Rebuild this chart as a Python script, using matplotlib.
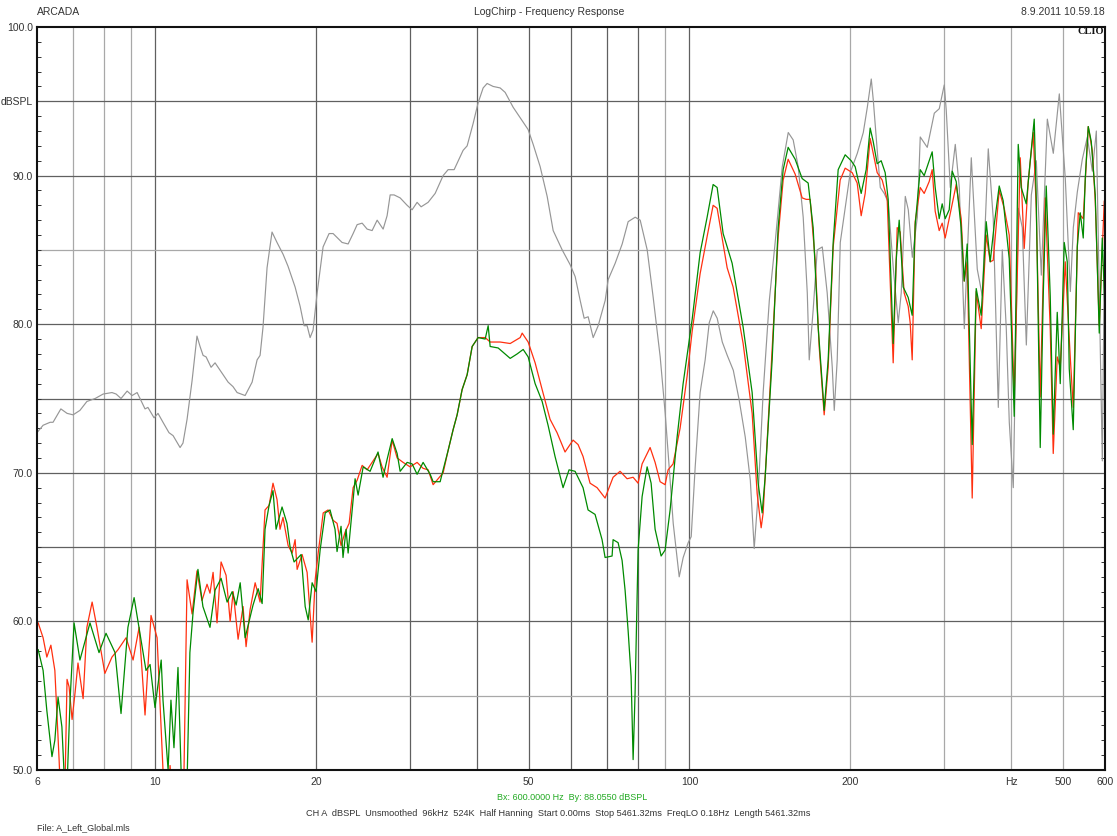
import matplotlib
matplotlib.use("Agg")
import matplotlib.pyplot as plt
from matplotlib.ticker import FixedLocator, NullFormatter

plt.rcParams['font.family'] = ['Liberation Sans', 'DejaVu Sans']

# ---------------- data ----------------
gray_f = [6.00, 6.16, 6.35, 6.43, 6.65, 6.83, 7.01, 7.22, 7.44, 7.71, 7.98, 8.29, 8.44, 8.62, 8.85, 9.04, 9.24,
          9.56, 9.68, 9.94, 10.11, 10.33, 10.60, 10.79, 11.12, 11.26, 11.46, 11.71, 11.96, 12.12, 12.28, 12.44,
          12.71, 12.93, 13.33, 13.68, 13.97, 14.22, 14.72, 15.17, 15.50, 15.70, 15.90, 16.18, 16.53, 16.89, 17.34,
          17.71, 18.26, 18.66, 18.98, 19.23, 19.48, 19.73, 20.08, 20.60, 21.14, 21.51, 22.36, 22.95, 23.45, 23.86,
          24.38, 24.91, 25.45, 26.01, 26.69, 27.15, 27.51, 27.98, 28.72, 29.60, 30.24, 30.90, 31.44, 32.40, 33.40,
          34.57, 35.32, 36.25, 37.68, 38.34, 39.34, 40.20, 41.08, 41.79, 42.89, 44.20, 45.17, 46.75, 48.19, 49.87,
          50.97, 52.53, 54.14, 55.56, 57.76, 59.79, 61.09, 62.42, 63.50, 64.61, 66.02, 67.46, 69.53, 70.43, 72.59,
          74.82, 76.77, 79.13, 80.86, 83.34, 85.52, 88.14, 90.06, 91.23, 93.23, 95.67, 97.33, 99.45, 100.75, 102.5,
          104.7, 107.0, 108.9, 110.8, 112.7, 115.2, 117.7, 120.8, 123.9, 127.2, 130.0, 132.2, 134.5, 137.4, 141.1,
          144.7, 149.2, 153.1, 156.4, 159.8, 163.3, 166.2, 167.6, 170.5, 173.5, 177.3, 181.1, 185.1, 186.7, 189.1,
          191.6, 195.8, 200.0, 206.2, 211.6, 215.3, 219.0, 220.9, 224.7, 227.7, 231.6, 235.6, 240.8, 246.0, 249.2,
          253.6, 256.9, 261.4, 267.1, 270.5, 278.8, 287.4, 293.6, 300.0, 302.6, 307.9, 314.6, 320.1, 327.1, 337.1,
          345.9, 353.5, 362.7, 370.6, 378.7, 385.3, 392.0, 397.1, 404.0, 412.8, 420.0, 427.4, 436.7, 446.2, 455.9,
          467.9, 480.1, 492.7, 505.6, 516.7, 523.4, 532.5, 544.1, 556.0, 568.1, 578.0, 593.1, 600.0]
gray_db = [72.7, 73.2, 73.4, 73.4, 74.3, 74.0, 73.9, 74.2, 74.8, 75.0, 75.3, 75.4, 75.3, 75.0, 75.5, 75.2, 75.4,
           74.3, 74.4, 73.7, 74.0, 73.4, 72.7, 72.5, 71.7, 72.0, 73.6, 76.2, 79.2, 78.5, 77.9, 77.8,
           77.1, 77.4, 76.7, 76.1, 75.8, 75.4, 75.2, 76.1, 77.6, 77.9, 79.8, 83.8, 86.2, 85.5, 84.7,
           83.9, 82.5, 81.2, 79.9, 79.9, 79.1, 79.6, 82.1, 85.2, 86.1, 86.1, 85.5, 85.4, 86.1, 86.7,
           86.8, 86.4, 86.3, 87.0, 86.4, 87.3, 88.7, 88.7, 88.5, 88.0, 87.7, 88.2, 87.9, 88.2, 88.8,
           90.0, 90.4, 90.4, 91.7, 92.0, 93.5, 94.9, 95.9, 96.2, 96.0, 95.9, 95.6, 94.6, 93.9, 93.1,
           92.1, 90.6, 88.6, 86.3, 85.0, 84.0, 83.2, 81.6, 80.4, 80.5, 79.1, 79.9, 81.6, 83.0, 84.1,
           85.4, 86.9, 87.2, 87.0, 85.0, 81.8, 77.8, 74.0, 71.3, 66.6, 63.0, 64.3, 65.3, 65.7, 70.4,
           75.4, 77.6, 80.1, 80.9, 80.4, 78.8, 77.9, 76.9, 74.9, 72.4, 69.5, 64.9, 68.6, 75.4, 81.6,
           85.5, 90.6, 92.9, 92.4, 90.6, 87.2, 82.1, 77.6, 81.0, 85.0, 85.2, 82.1, 77.1, 74.2, 77.6,
           85.5, 87.9, 90.2, 91.5, 92.9, 94.6, 96.5, 95.1, 91.7, 89.2, 88.8, 88.2, 83.8, 80.1, 82.1,
           88.6, 87.7, 84.5, 87.2, 92.6, 91.9, 94.2, 94.5, 96.1, 94.4, 89.2, 92.1, 89.2, 79.7, 91.2,
           83.7, 81.9, 91.8, 87.1, 74.4, 85.0, 79.7, 73.4, 69.0, 87.8, 86.5, 78.6, 88.7, 91.0, 83.3,
           93.8, 91.5, 95.5, 89.8, 82.2, 86.5, 88.9, 91.1, 92.6, 90.3, 93.0, 70.8, 88.3]

red_f = [6.03, 6.16, 6.26, 6.37, 6.48, 6.60, 6.68, 6.77, 6.83, 6.89, 6.98, 7.07, 7.16, 7.32, 7.44, 7.61, 7.77,
         8.04, 8.29, 8.51, 8.81, 9.08, 9.32, 9.56, 9.81, 10.07, 10.33, 10.47, 10.65, 10.83, 11.12, 11.31, 11.46,
         11.71, 11.96, 12.22, 12.49, 12.65, 12.82, 13.04, 13.27, 13.56, 13.80, 13.98, 14.28, 14.59, 14.78, 15.04,
         15.37, 15.70, 16.04, 16.32, 16.60, 16.89, 17.11, 17.33, 17.72, 18.03, 18.26, 18.42, 18.82, 19.23, 19.65,
         19.91, 20.17, 20.61, 21.05, 21.51, 21.88, 22.26, 22.65, 23.05, 23.45, 23.86, 24.38, 24.91, 25.45, 26.11,
         26.57, 27.15, 27.75, 28.35, 29.09, 29.98, 30.90, 31.71, 32.41, 33.11, 33.84, 34.57, 35.32, 36.09, 36.72,
         37.52, 38.34, 39.18, 40.20, 41.44, 42.34, 44.21, 46.16, 48.19, 48.61, 49.88, 51.40, 52.98, 54.82, 56.50,
         58.48, 60.54, 61.86, 63.20, 65.14, 67.14, 69.50, 71.94, 74.14, 76.42, 78.43, 80.13, 81.53, 84.39, 86.23,
         88.11, 90.03, 91.20, 93.19, 96.04, 98.99, 101.15, 104.70, 107.91, 110.74, 112.67, 117.64, 120.72, 126.04,
         131.03, 133.89, 136.22, 137.40, 141.61, 146.58, 149.78, 153.04, 157.73, 162.57, 165.40, 168.27, 171.94,
         174.93, 178.75, 181.86, 185.83, 191.52, 195.70, 201.69, 206.09, 209.68, 213.33, 217.97, 220.81, 224.65,
         229.55, 234.56, 240.71, 244.90, 248.09, 252.41, 256.80, 259.02, 261.27, 264.67, 270.44, 275.14, 281.14,
         284.80, 288.51, 293.53, 297.35, 301.23, 306.48, 315.87, 322.75, 326.96, 331.22, 338.43, 344.32, 351.83,
         359.50, 365.76, 370.52, 380.23, 388.53, 397.01, 405.66, 416.29, 423.54, 430.91, 440.30, 446.03, 453.79,
         463.69, 473.80, 479.97, 488.32, 494.68, 505.47, 516.48, 523.21, 534.61, 546.27, 558.19, 567.90, 575.30,
         585.30, 598.07, 600.0]
red_db = [59.9, 58.9, 57.6, 58.4, 56.7, 50.7, 46.0, 49.0, 56.1, 55.6, 53.4, 55.2, 57.2, 54.8, 59.6, 61.3, 59.6,
          56.5, 57.6, 58.1, 58.9, 57.4, 59.6, 53.7, 60.4, 58.9, 50.0, 46.0, 50.3, 46.0, 46.0, 50.0, 62.8,
          60.5, 63.4, 61.4, 62.5, 61.9, 63.3, 59.9, 64.0, 63.1, 60.0, 62.0, 58.8, 61.0, 58.3, 60.8,
          62.6, 61.3, 67.5, 67.8, 69.3, 68.2, 66.2, 67.0, 65.1, 64.6, 65.5, 63.5, 64.5, 63.3, 58.6,
          62.8, 64.6, 67.3, 67.5, 66.8, 66.6, 65.1, 66.0, 66.6, 69.0, 69.5, 70.5, 70.2, 70.7, 71.3,
          70.4, 69.7, 72.2, 71.0, 70.7, 70.4, 70.7, 70.3, 70.2, 69.2, 69.6, 70.0, 71.5, 72.9, 73.9,
          75.6, 76.6, 78.5, 79.1, 79.1, 78.8, 78.8, 78.7, 79.1, 79.4, 78.8, 77.4, 75.6, 73.6, 72.7,
          71.4, 72.2, 71.9, 71.1, 69.3, 69.0, 68.3, 69.7, 70.1, 69.6, 69.7, 69.3, 70.6, 71.7, 70.7,
          69.4, 69.2, 70.2, 70.6, 73.0, 76.5, 79.5, 83.4, 85.9, 88.0, 87.8, 83.8, 82.5, 78.7,
          74.0, 68.6, 66.3, 67.3, 75.8, 85.9, 89.7, 91.1, 90.1, 88.5, 88.4, 88.4, 84.3,
          78.5, 73.9, 77.1, 85.2, 89.7, 90.5, 90.2, 89.5, 87.3, 88.8, 92.5, 91.5, 90.2,
          89.7, 88.4, 77.4, 86.5, 86.2, 82.1, 81.2, 80.1, 77.6, 86.9, 89.2, 88.8, 89.6,
          90.4, 87.6, 86.3, 86.8, 85.8, 87.1, 89.4, 87.1, 82.9, 84.2, 68.3, 82.2, 79.7,
          86.0, 84.2, 84.3, 89.0, 87.8, 86.0, 75.1, 91.2, 85.1, 89.6, 92.9, 87.8, 75.1,
          88.5, 79.7, 71.3, 77.8, 77.1, 84.2, 77.8, 74.4, 87.5, 87.1, 93.3, 91.7, 88.3,
          79.9, 88.3, 86.0]

green_f = [6.03, 6.16, 6.26, 6.40, 6.48, 6.57, 6.68, 6.80, 6.92, 7.04, 7.22, 7.54, 7.84, 8.08, 8.40, 8.62, 8.88,
           9.12, 9.36, 9.60, 9.77, 9.98, 10.25, 10.33, 10.56, 10.69, 10.83, 11.02, 11.21, 11.41, 11.60, 11.76,
           12.01, 12.27, 12.65, 12.93, 13.27, 13.62, 13.92, 14.16, 14.41, 14.72, 15.04, 15.23, 15.57, 15.84,
           16.04, 16.32, 16.60, 16.82, 17.26, 17.63, 17.87, 18.18, 18.74, 19.07, 19.32, 19.65, 19.99, 20.34,
           20.79, 21.23, 21.69, 21.88, 22.26, 22.45, 22.75, 22.95, 23.35, 23.65, 23.96, 24.49, 25.23, 26.11,
           26.68, 27.15, 27.75, 28.35, 28.72, 29.60, 30.24, 30.90, 31.71, 32.69, 33.11, 34.13, 34.57, 35.32,
           36.09, 36.72, 37.52, 38.34, 39.18, 40.20, 41.44, 41.98, 42.34, 43.83, 46.16, 47.57, 48.82, 49.88,
           51.40, 52.98, 54.35, 56.01, 57.98, 59.50, 61.06, 63.20, 64.58, 66.56, 68.60, 69.50, 71.63, 71.94,
           73.51, 74.79, 75.76, 76.75, 77.75, 78.43, 79.10, 80.13, 81.53, 83.31, 84.76, 86.23, 88.49, 90.03,
           91.99, 94.81, 97.30, 101.15, 104.70, 107.91, 110.74, 112.67, 115.62, 120.20, 126.04, 131.03, 134.47,
           136.81, 138.59, 142.84, 146.58, 149.78, 153.04, 157.73, 162.57, 166.83, 170.46, 174.18, 178.75,
           181.86, 185.83, 189.88, 195.70, 200.83, 204.32, 209.68, 214.25, 217.97, 220.81, 224.65, 228.56,
           232.54, 235.58, 240.71, 243.85, 247.02, 251.32, 256.80, 261.27, 264.67, 270.44, 275.14, 281.14,
           284.80, 288.51, 293.53, 297.35, 301.23, 306.48, 310.46, 315.87, 322.75, 326.96, 331.22, 338.43,
           344.32, 351.83, 359.50, 365.76, 372.13, 380.23, 386.85, 397.01, 405.66, 412.72, 418.09, 427.21,
           434.64, 442.20, 446.03, 453.79, 459.71, 465.70, 473.80, 479.97, 488.32, 494.68, 503.29, 509.86,
           514.27, 523.21, 532.31, 539.24, 546.27, 551.00, 558.19, 565.46, 575.30, 585.30, 592.93, 600.0]
green_db = [58.1, 56.7, 54.0, 50.9, 52.0, 54.9, 52.9, 47.0, 54.7, 59.9, 57.4, 59.9, 57.9, 59.2, 57.9, 53.8, 59.6,
            61.6, 59.1, 56.7, 57.1, 54.2, 57.4, 54.7, 50.0, 54.7, 51.5, 56.9, 48.0, 46.0, 57.9, 60.6,
            63.5, 61.0, 59.6, 62.1, 62.9, 61.3, 62.0, 61.1, 62.6, 58.9, 60.3, 61.1, 62.2, 61.2,
            66.2, 67.8, 68.8, 66.2, 67.7, 66.6, 65.0, 64.0, 64.5, 61.0, 60.1, 62.6, 62.0, 64.8,
            67.3, 67.5, 66.2, 64.7, 66.4, 64.3, 66.2, 64.6, 67.5, 69.6, 68.5, 70.4, 70.1, 71.4,
            69.7, 70.9, 72.3, 71.3, 70.1, 70.7, 70.6, 69.9, 70.7, 69.9, 69.4, 69.4, 70.2, 71.5,
            72.9, 73.9, 75.6, 76.6, 78.5, 79.1, 79.0, 79.9, 78.5, 78.4, 77.7, 78.0, 78.3, 77.8,
            76.0, 74.8, 73.2, 71.1, 69.0, 70.2, 70.1, 69.0, 67.5, 67.2, 65.5, 64.3, 64.4, 65.5,
            65.3, 64.1, 62.1, 59.4, 56.3, 50.7, 55.2, 64.8, 68.4, 70.4, 69.3, 66.2, 64.4, 64.8,
            67.5, 72.4, 76.0, 80.3, 84.8, 87.2, 89.4, 89.2, 86.1, 84.1, 79.8, 75.4, 69.3,
            67.3, 69.7, 77.6, 86.5, 90.4, 91.9, 91.1, 89.8, 89.5, 86.5, 79.8, 74.2,
            77.6, 85.5, 90.4, 91.4, 91.0, 90.6, 88.8, 90.4, 93.2, 92.3, 90.8, 91.0,
            90.2, 88.4, 78.7, 84.3, 87.0, 82.5, 81.8, 80.6, 86.7, 90.4, 90.0, 91.0,
            91.6, 89.2, 87.1, 88.1, 87.1, 87.7, 90.3, 89.6, 86.5, 82.9, 85.4, 71.9,
            82.4, 80.6, 86.9, 84.2, 86.7, 89.3, 88.3, 84.4, 73.8, 92.1, 89.2, 88.1,
            91.0, 93.8, 88.5, 71.7, 81.9, 89.3, 81.9, 72.6, 80.8, 76.0, 85.5, 84.2,
            77.0, 72.9, 85.2, 87.5, 85.8, 89.8, 93.3, 92.3, 88.7, 79.4, 85.8, 80.8]

x_grid = [7, 8, 9, 10, 20, 30, 40, 50, 60, 70, 80, 90, 100, 200, 300, 400, 500]
x_tick_vals = [6, 10, 20, 50, 100, 200, 400, 500, 600]
x_tick_labels = ['6', '10', '20', '50', '100', '200', 'Hz', '500', '600']
y_grid = [55, 60, 65, 70, 75, 80, 85, 90, 95]
y_tick_vals = [100, 95, 90, 80, 70, 60, 50]
y_tick_labels = ['100.0', 'dBSPL', '90.0', '80.0', '70.0', '60.0', '50.0']

# ---------------- figure ----------------
W, H = 1117, 836
fig = plt.figure(figsize=(W / 100, H / 100), dpi=100)
ax = fig.add_axes([37 / W, 1 - 770 / H, (1105 - 37) / W, (770 - 27) / H])
ax.set_xscale('log')
ax.set_xlim(6, 600)
ax.set_ylim(50, 100)

light = {7, 8, 9, 90, 200, 300, 400, 500}
for xv in x_grid:
    ax.axvline(xv, color='#a8a8a8' if xv in light else '#606060', lw=0.9, zorder=1)
for yv in y_grid:
    ax.axhline(yv, color='#a8a8a8' if yv in (55, 85) else '#606060', lw=0.9, zorder=1)

ax.plot(gray_f, gray_db, color='#969696', lw=0.85, zorder=3)
ax.plot(red_f, red_db, color='#ff3010', lw=0.9, zorder=4)
ax.plot(green_f, green_db, color='#008a00', lw=0.9, zorder=5)

ax.xaxis.set_major_locator(FixedLocator(x_tick_vals))
ax.set_xticklabels(x_tick_labels)
ax.xaxis.set_minor_locator(FixedLocator([]))
ax.xaxis.set_minor_formatter(NullFormatter())
ax.tick_params(axis='x', which='major', length=0, pad=5, labelsize=7.5, labelcolor='#333333')

ax.yaxis.set_major_locator(FixedLocator(y_tick_vals))
ax.set_yticklabels(y_tick_labels)
ax.yaxis.set_minor_locator(FixedLocator(list(range(51, 100))))
ax.tick_params(axis='y', which='major', length=0, pad=3, labelsize=7.5, labelcolor='#333333')
ax.tick_params(axis='y', which='minor', direction='in', length=3, width=0.7, color='#333333',
               left=True, right=True)

for s in ax.spines.values():
    s.set_color('#111111')
    s.set_linewidth(1.5)
    s.set_zorder(6)

fig.text(37 / W, 1 - 12 / H, 'ARCADA', fontsize=7.5, color='#333333', va='center', ha='left')
fig.text(549 / W, 1 - 12 / H, 'LogChirp - Frequency Response', fontsize=7.5, color='#333333',
         va='center', ha='center')
fig.text(1105 / W, 1 - 12 / H, '8.9.2011 10.59.18', fontsize=7.5, color='#333333', va='center', ha='right')
fig.text(1104 / W, 1 - 32 / H, 'CLIO', fontsize=7.5, fontweight='bold', family='Liberation Serif',
         color='#111111', va='center', ha='right', zorder=10)
fig.text(572 / W, 1 - 797 / H, 'Bx: 600.0000 Hz  By: 88.0550 dBSPL', fontsize=6.5, color='#22aa22',
         va='center', ha='center')
fig.text(558 / W, 1 - 813 / H,
         'CH A  dBSPL  Unsmoothed  96kHz  524K  Half Hanning  Start 0.00ms  Stop 5461.32ms  '
         'FreqLO 0.18Hz  Length 5461.32ms',
         fontsize=6.6, color='#333333', va='center', ha='center')
fig.text(37 / W, 1 - 828 / H, 'File: A_Left_Global.mls', fontsize=6.5, color='#333333', va='center', ha='left')

fig.savefig('out.png', dpi=100)
